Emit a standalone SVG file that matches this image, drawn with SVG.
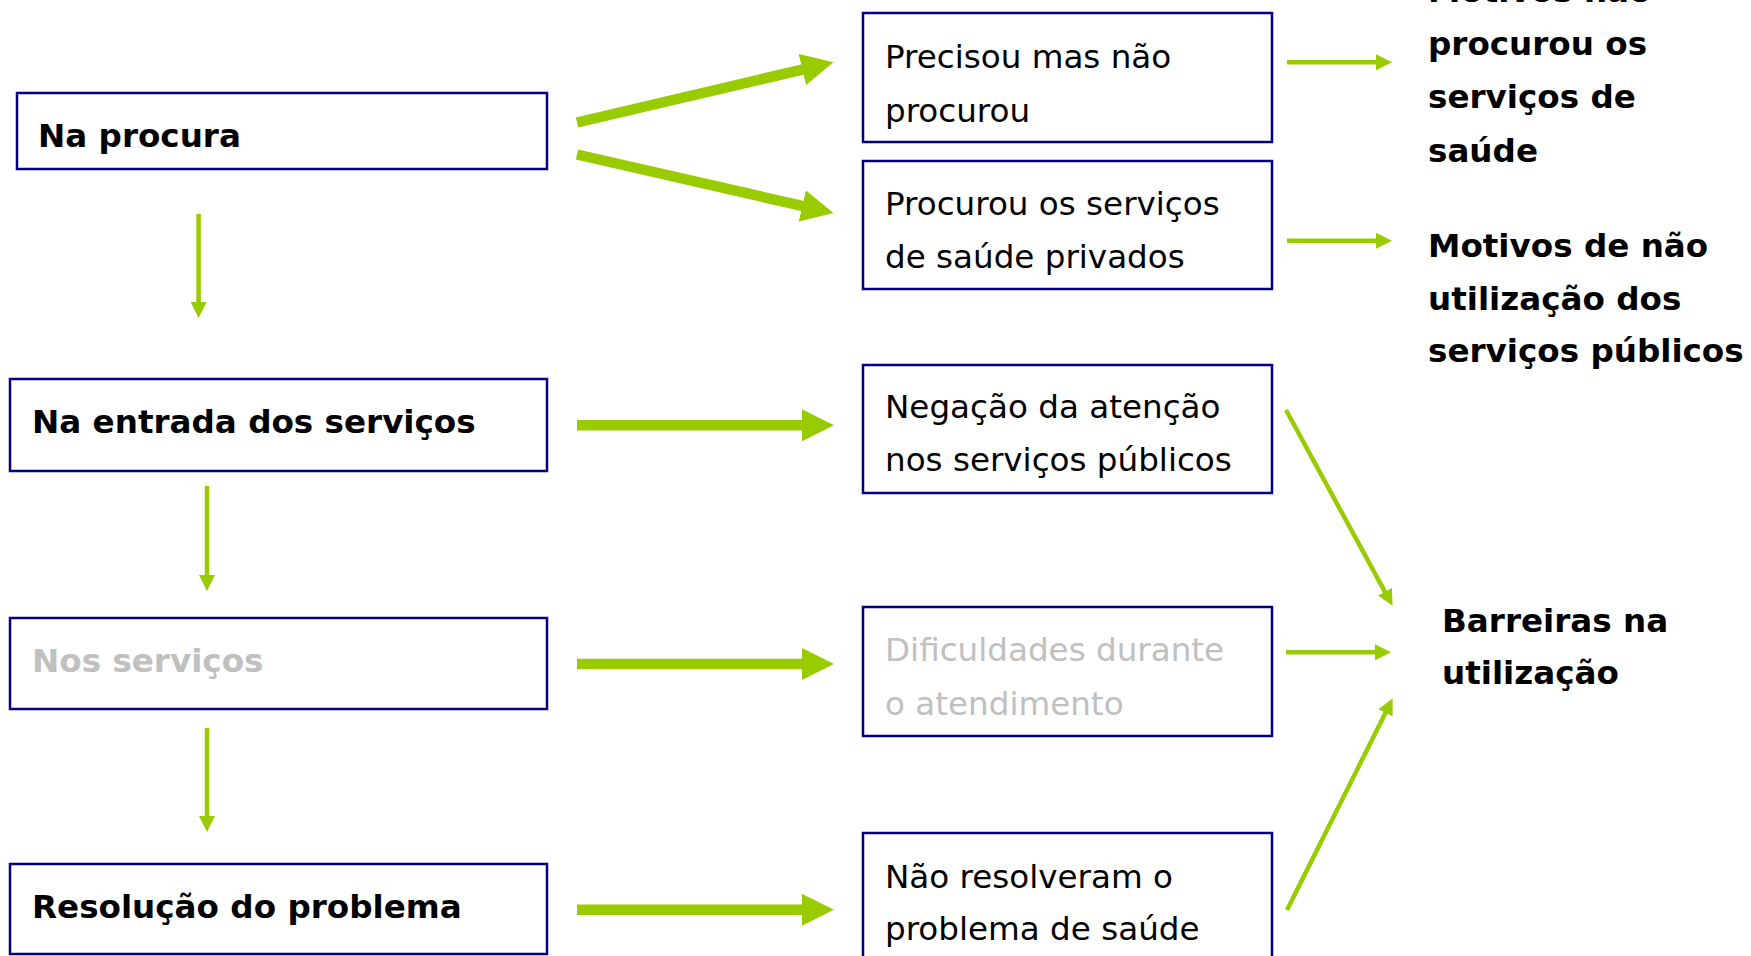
<svg xmlns="http://www.w3.org/2000/svg" width="1751" height="956" viewBox="0 0 1751 956">
<style>
.box{fill:#fff;stroke:#000080;stroke-width:2.5}
.t{font-family:"DejaVu Sans",Verdana,sans-serif;font-size:32.6px;fill:#000}
.b{font-weight:bold}
.g{fill:#c0c0c0}
.thick{stroke:#99cc00;stroke-width:10.5;fill:none;marker-end:url(#bigHead)}
.thin{stroke:#99cc00;stroke-width:4.5;fill:none;marker-end:url(#smallHead)}
</style>
<defs>
<marker id="bigHead" markerUnits="userSpaceOnUse" markerWidth="32" markerHeight="32" refX="1" refY="16" orient="auto" viewBox="0 0 32 32">
<path d="M0,0 L32,16 L0,32 z" fill="#99cc00"/>
</marker>
<marker id="smallHead" markerUnits="userSpaceOnUse" markerWidth="16" markerHeight="16" refX="1" refY="8" orient="auto" viewBox="0 0 16 16">
<path d="M0,0 L16,8 L0,16 z" fill="#99cc00"/>
</marker>
</defs>
<rect width="1751" height="956" fill="#fff"/>

<g id="na-procura">
<rect class="box" x="17" y="93" width="530" height="76"/>
<text class="t b" x="38" y="147">Na procura</text>
</g>
<g id="na-entrada">
<rect class="box" x="10" y="379" width="537" height="92"/>
<text class="t b" x="32" y="433">Na entrada dos serviços</text>
</g>
<g id="nos-servicos">
<rect class="box" x="10" y="618" width="537" height="91"/>
<text class="t b g" x="32" y="672">Nos serviços</text>
</g>
<g id="resolucao">
<rect class="box" x="10" y="864" width="537" height="90"/>
<text class="t b" x="32" y="918">Resolução do problema</text>
</g>

<g id="precisou">
<rect class="box" x="863" y="13" width="409" height="129"/>
<text class="t" x="885" y="68">Precisou mas não</text>
<text class="t" x="885" y="122">procurou</text>
</g>
<g id="privados">
<rect class="box" x="863" y="161" width="409" height="128"/>
<text class="t" x="885" y="215">Procurou os serviços</text>
<text class="t" x="885" y="268">de saúde privados</text>
</g>
<g id="negacao">
<rect class="box" x="863" y="365" width="409" height="128"/>
<text class="t" x="885" y="418">Negação da atenção</text>
<text class="t" x="885" y="471">nos serviços públicos</text>
</g>
<g id="dificuldades">
<rect class="box" x="863" y="607" width="409" height="129"/>
<text class="t g" x="885" y="661">Dificuldades durante</text>
<text class="t g" x="885" y="715">o atendimento</text>
</g>
<g id="nao-resolveram">
<rect class="box" x="863" y="833" width="409" height="140"/>
<text class="t" x="885" y="888">Não resolveram o</text>
<text class="t" x="885" y="940">problema de saúde</text>
</g>

<g id="motivos-nao-procurou">
<text class="t b" x="1428" y="2">Motivos não</text>
<text class="t b" x="1428" y="55">procurou os</text>
<text class="t b" x="1428" y="108">serviços de</text>
<text class="t b" x="1428" y="162">saúde</text>
</g>
<g id="motivos-nao-utilizacao">
<text class="t b" x="1428" y="257">Motivos de não</text>
<text class="t b" x="1428" y="310">utilização dos</text>
<text class="t b" x="1428" y="362">serviços públicos</text>
</g>
<g id="barreiras">
<text class="t b" x="1442" y="632">Barreiras na</text>
<text class="t b" x="1442" y="684">utilização</text>
</g>

<g id="connectors">
<line class="thick" x1="577" y1="122.5" x2="803.3" y2="69.3"/>
<line class="thick" x1="577" y1="154.5" x2="803.3" y2="206.2"/>
<line class="thick" x1="577" y1="425.3" x2="803" y2="425.3"/>
<line class="thick" x1="577" y1="664" x2="803" y2="664"/>
<line class="thick" x1="577" y1="909.8" x2="803" y2="909.8"/>
<line class="thin" x1="198.6" y1="214" x2="198.6" y2="303"/>
<line class="thin" x1="207" y1="486" x2="207" y2="576"/>
<line class="thin" x1="207" y1="728" x2="207" y2="817"/>
<line class="thin" x1="1287" y1="62.3" x2="1377" y2="62.3"/>
<line class="thin" x1="1287" y1="240.7" x2="1377" y2="240.7"/>
<line class="thin" x1="1286" y1="652.3" x2="1376" y2="652.3"/>
<line class="thin" x1="1286" y1="410" x2="1385.4" y2="592.6"/>
<line class="thin" x1="1287" y1="910" x2="1385.9" y2="712"/>
</g>
</svg>
